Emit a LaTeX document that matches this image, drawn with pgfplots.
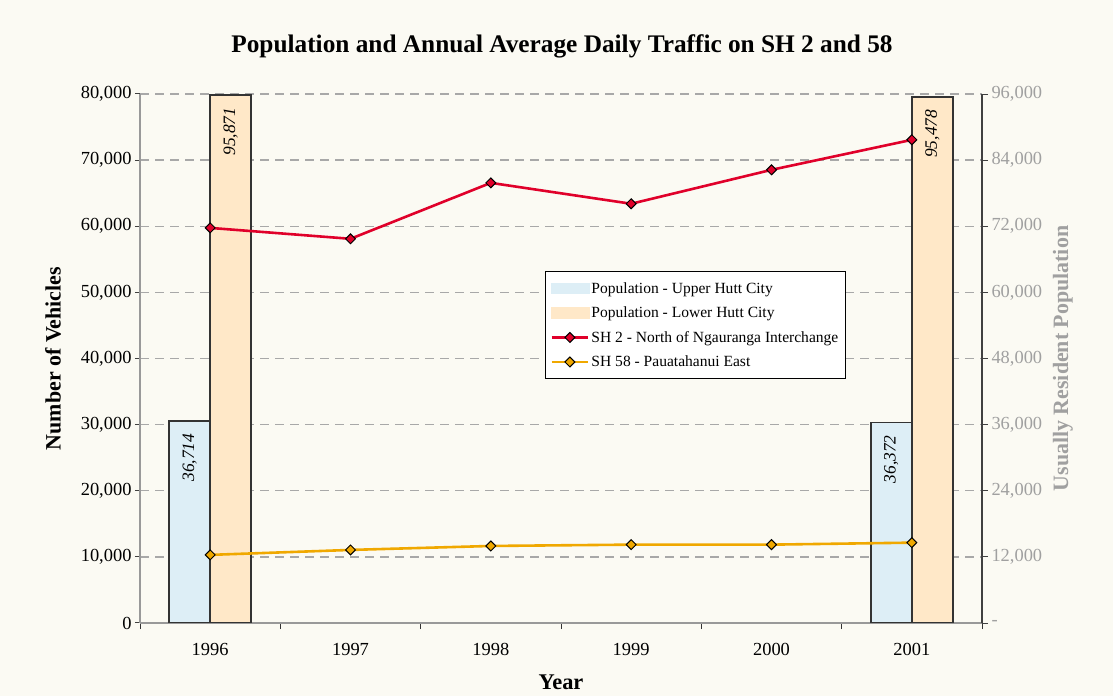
\documentclass[border=0pt]{standalone}
\usepackage{fontspec}
\setmainfont{Liberation Serif}
\usepackage{pgfplots}
\pgfplotsset{compat=1.18}
\definecolor{bg}{HTML}{FBFAF3}
\definecolor{upper}{HTML}{DDEEF6}
\definecolor{lower}{HTML}{FFE8C8}
\definecolor{redl}{HTML}{E0002A}
\definecolor{orl}{HTML}{F0A800}
\definecolor{gridc}{HTML}{A8A8A8}
\definecolor{axgray}{HTML}{999999}
\definecolor{labgray}{HTML}{A0A0A0}
\begin{document}
\begin{tikzpicture}
\fill[bg] (0,0) rectangle (1113bp,696bp);
\node[font=\fontsize{25.4}{29}\selectfont\bfseries] at (562bp,650bp) {Population and Annual Average Daily Traffic on SH 2 and 58};
% bars axis (right)
\begin{axis}[
  at={(140bp,73bp)}, anchor=south west, scale only axis,
  width=842bp, height=529bp,
  xmin=-0.5, xmax=5.5, ymin=0, ymax=96000,
  scaled y ticks=false,
  axis y line*=right, axis x line*=bottom,
  axis line style={draw=black!75, line width=1.2bp},
  x axis line style={draw=axgray, line width=1.5bp},
  xtick={0,...,5}, xticklabels={1996,1997,1998,1999,2000,2001},
  major x tick style={draw=none},
  minor xtick={-0.5,0.5,...,5.5},
  minor x tick style={draw=black!80, line width=1bp},
  tick align=outside, minor tick length=6bp, major tick length=6bp,
  ytick={0,12000,...,96000},
  yticklabels={-,{12,000},{24,000},{36,000},{48,000},{60,000},{72,000},{84,000},{96,000}},
  y tick style={draw=black!75, line width=1bp},
  yticklabel style={text=labgray, font=\fontsize{18.5}{22}\selectfont},
  xticklabel style={font=\fontsize{18.5}{22}\selectfont, yshift=-11bp},
  ymajorgrids,
  grid style={draw=gridc, line width=1.3bp, dash pattern=on 9bp off 6bp},
  ylabel={Usually Resident Population},
  ylabel style={at={(axis description cs:1.096,0.5)}, anchor=center, rotate=0, font=\fontsize{22}{26}\selectfont\bfseries, text=labgray},
  xlabel={Year},
  xlabel style={at={(axis description cs:0.5,-0.1115)}, anchor=center, font=\fontsize{22.5}{26}\selectfont\bfseries},
  /pgf/number format/.cd, 1000 sep={,}, assume math mode=true,
]
\addplot[ybar, bar width=0.293, bar shift=0, fill=upper, draw=black!80, line width=1.8bp,
  nodes near coords, every node near coord/.append style={rotate=90, anchor=east, inner xsep=12bp, font=\fontsize{17.5}{21}\selectfont\itshape, text=black}]
  coordinates {(-0.1465,36714) (4.8535,36372)};
\addplot[ybar, bar width=0.293, bar shift=0, fill=lower, draw=black!80, line width=1.8bp,
  nodes near coords, every node near coord/.append style={rotate=90, anchor=east, inner xsep=12bp, font=\fontsize{17.5}{21}\selectfont\itshape, text=black}]
  coordinates {(0.1465,95871) (5.1465,95478)};
\end{axis}
% lines axis (left)
\begin{axis}[
  at={(140bp,73bp)}, anchor=south west, scale only axis,
  width=842bp, height=529bp,
  xmin=-0.5, xmax=5.5, ymin=0, ymax=80000,
  scaled y ticks=false,
  axis y line*=left, axis x line=none,
  axis line style={draw=axgray, line width=1.5bp},
  tick align=outside, major tick length=5bp,
  ytick={0,10000,...,80000},
  y tick style={draw=black!75, line width=1bp},
  yticklabel style={font=\fontsize{18.5}{22}\selectfont},
  ylabel={Number of Vehicles},
  ylabel style={at={(axis description cs:-0.1033,0.5)}, anchor=center, font=\fontsize{22}{26}\selectfont\bfseries},
  legend style={at={(0.481,0.665)}, anchor=north west, draw=black, line width=1.2bp, fill=white,
    font=\fontsize{15.6}{18}\selectfont, row sep=8.2bp, inner xsep=5bp, inner ysep=8.5bp},
  legend cell align=left,
  legend image code/.code={
    \draw[#1] (0bp,0bp) -- (36bp,0bp);
    \draw[#1, mark repeat=2, mark phase=2] plot coordinates {(0bp,0bp) (18bp,0bp) (36bp,0bp)};},
  /pgf/number format/.cd, 1000 sep={,}, assume math mode=true,
]
\addlegendimage{legend image code/.code={\fill[upper] (0bp,-5bp) rectangle (37bp,5bp);}}
\addlegendentry{Population - Upper Hutt City}
\addlegendimage{legend image code/.code={\fill[lower] (0bp,-5bp) rectangle (37bp,5bp);}}
\addlegendentry{Population - Lower Hutt City}
\addplot[redl, line width=2.6bp, mark=square*, mark size=3.5bp, mark options={rotate=45, fill=redl, draw=black, line width=1bp}]
  coordinates {(0,59750) (1,58100) (2,66560) (3,63400) (4,68530) (5,73070)};
\addlegendentry{SH 2 - North of Ngauranga Interchange}
\addplot[orl, line width=2.6bp, mark=square*, mark size=3.5bp, mark options={rotate=45, fill=orl, draw=black, line width=1bp}]
  coordinates {(0,10300) (1,11050) (2,11650) (3,11850) (4,11850) (5,12150)};
\addlegendentry{SH 58 - Pauatahanui East}
\end{axis}
\end{tikzpicture}
\end{document}
